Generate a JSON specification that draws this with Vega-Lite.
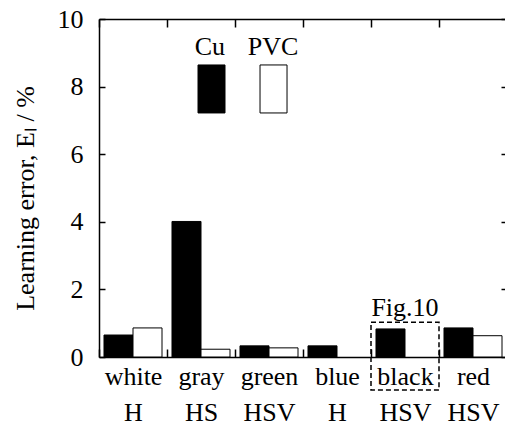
{
  "$schema": "https://vega.github.io/schema/vega-lite/v6.json",
  "width": 408,
  "height": 338,
  "autosize": {"type": "none"},
  "padding": {"left": 99, "top": 19, "right": 0, "bottom": 80},
  "config": {
    "font": "Liberation Serif",
    "view": {"stroke": null},
    "axis": {
      "domainColor": "black", "tickColor": "black", "labelColor": "black", "titleColor": "black",
      "labelFont": "Liberation Serif", "titleFont": "Liberation Serif",
      "labelFontSize": 26, "titleFontSize": 26, "titleFontWeight": "normal",
      "grid": false, "domainWidth": 1.5, "tickWidth": 1.5
    }
  },
  "datasets": {
    "bars": [
      {"group": "white|H", "series": "Cu", "value": 0.65},
      {"group": "white|H", "series": "PVC", "value": 0.86},
      {"group": "gray|HS", "series": "Cu", "value": 4.01},
      {"group": "gray|HS", "series": "PVC", "value": 0.23},
      {"group": "green|HSV", "series": "Cu", "value": 0.33},
      {"group": "green|HSV", "series": "PVC", "value": 0.27},
      {"group": "blue|H", "series": "Cu", "value": 0.33},
      {"group": "black|HSV", "series": "Cu", "value": 0.83},
      {"group": "red|HSV", "series": "Cu", "value": 0.86},
      {"group": "red|HSV", "series": "PVC", "value": 0.63}
    ],
    "legend": [
      {"series": "Cu", "x1": 1.456, "x2": 1.853, "y1": 7.22, "y2": 8.64, "lx": 1.63, "ly": 9.17},
      {"series": "PVC", "x1": 2.368, "x2": 2.765, "y1": 7.22, "y2": 8.64, "lx": 2.56, "ly": 9.17}
    ],
    "box": [
      {"group": "black|HSV", "top": 1.03, "bottom": -0.98, "ty": 1.45, "label": "Fig.10"}
    ]
  },
  "resolve": {
    "scale": {"x": "independent", "y": "independent"},
    "axis": {"x": "independent", "y": "independent"}
  },
  "layer": [
    {
      "data": {"name": "bars"},
      "mark": {"type": "bar", "stroke": "black", "strokeWidth": 1},
      "encoding": {
        "x": {
          "field": "group", "type": "nominal", "sort": null,
          "scale": {"type": "band", "domain": ["white|H", "gray|HS", "green|HSV", "blue|H", "black|HSV", "red|HSV"], "paddingInner": 0, "paddingOuter": 0},
          "axis": {"orient": "bottom", "title": null, "labelAngle": 0, "labelExpr": "isValid(datum.value) ? split(datum.value, '|') : ''", "labelLineHeight": 36, "tickBand": "extent", "tickSize": -8, "labelPadding": 14}
        },
        "xOffset": {"field": "series", "type": "nominal", "scale": {"domain": ["Cu", "PVC"], "paddingOuter": 0.172, "paddingInner": 0}},
        "y": {
          "field": "value", "type": "quantitative",
          "scale": {"domain": [0, 10], "nice": false},
          "axis": {"orient": "left", "values": [0, 2, 4, 6, 8, 10], "tickSize": -6, "labelPadding": 22, "title": "Learning error, Eₗ / %", "titleAngle": -90, "titleX": -74, "titleY": 179, "titleBaseline": "middle", "titleAlign": "center"}
        },
        "fill": {"field": "series", "type": "nominal", "scale": {"domain": ["Cu", "PVC"], "range": ["black", "white"]}, "legend": null}
      }
    },
    {
      "data": {"name": "box"},
      "mark": {"type": "point", "opacity": 0},
      "encoding": {
        "x": {
          "field": "group", "type": "nominal",
          "scale": {"type": "band", "domain": ["white|H", "gray|HS", "green|HSV", "blue|H", "black|HSV", "red|HSV"], "paddingInner": 0, "paddingOuter": 0},
          "axis": {"orient": "top", "title": null, "labels": false, "tickBand": "extent", "tickSize": -8}
        },
        "y": {
          "field": "top", "type": "quantitative",
          "scale": {"domain": [0, 10], "nice": false},
          "axis": {"orient": "right", "title": null, "labels": false, "values": [0, 2, 4, 6, 8, 10], "tickSize": -6}
        }
      }
    },
    {
      "data": {"name": "box"},
      "mark": {"type": "rect", "fill": null, "stroke": "black", "strokeDash": [5, 3], "strokeWidth": 1.5, "clip": false},
      "encoding": {
        "x": {
          "field": "group", "type": "nominal",
          "scale": {"type": "band", "domain": ["white|H", "gray|HS", "green|HSV", "blue|H", "black|HSV", "red|HSV"], "paddingInner": 0, "paddingOuter": 0},
          "axis": null
        },
        "y": {"field": "top", "type": "quantitative", "scale": {"domain": [0, 10], "nice": false}, "axis": null},
        "y2": {"field": "bottom"}
      }
    },
    {
      "data": {"name": "box"},
      "mark": {"type": "text", "fontSize": 26, "font": "Liberation Serif", "baseline": "middle", "color": "black"},
      "encoding": {
        "x": {
          "field": "group", "type": "nominal",
          "scale": {"type": "band", "domain": ["white|H", "gray|HS", "green|HSV", "blue|H", "black|HSV", "red|HSV"], "paddingInner": 0, "paddingOuter": 0},
          "axis": null
        },
        "y": {"field": "ty", "type": "quantitative", "scale": {"domain": [0, 10], "nice": false}, "axis": null},
        "text": {"field": "label"}
      }
    },
    {
      "data": {"name": "legend"},
      "mark": {"type": "rect", "stroke": "black", "strokeWidth": 1},
      "encoding": {
        "x": {"field": "x1", "type": "quantitative", "scale": {"domain": [0, 6], "nice": false, "zero": false}, "axis": null},
        "x2": {"field": "x2"},
        "y": {"field": "y1", "type": "quantitative", "scale": {"domain": [0, 10], "nice": false}, "axis": null},
        "y2": {"field": "y2"},
        "fill": {"field": "series", "type": "nominal", "scale": {"domain": ["Cu", "PVC"], "range": ["black", "white"]}, "legend": null}
      }
    },
    {
      "data": {"name": "legend"},
      "mark": {"type": "text", "fontSize": 26, "font": "Liberation Serif", "baseline": "middle", "color": "black"},
      "encoding": {
        "x": {"field": "lx", "type": "quantitative", "scale": {"domain": [0, 6], "nice": false, "zero": false}, "axis": null},
        "y": {"field": "ly", "type": "quantitative", "scale": {"domain": [0, 10], "nice": false}, "axis": null},
        "text": {"field": "series"}
      }
    }
  ]
}
